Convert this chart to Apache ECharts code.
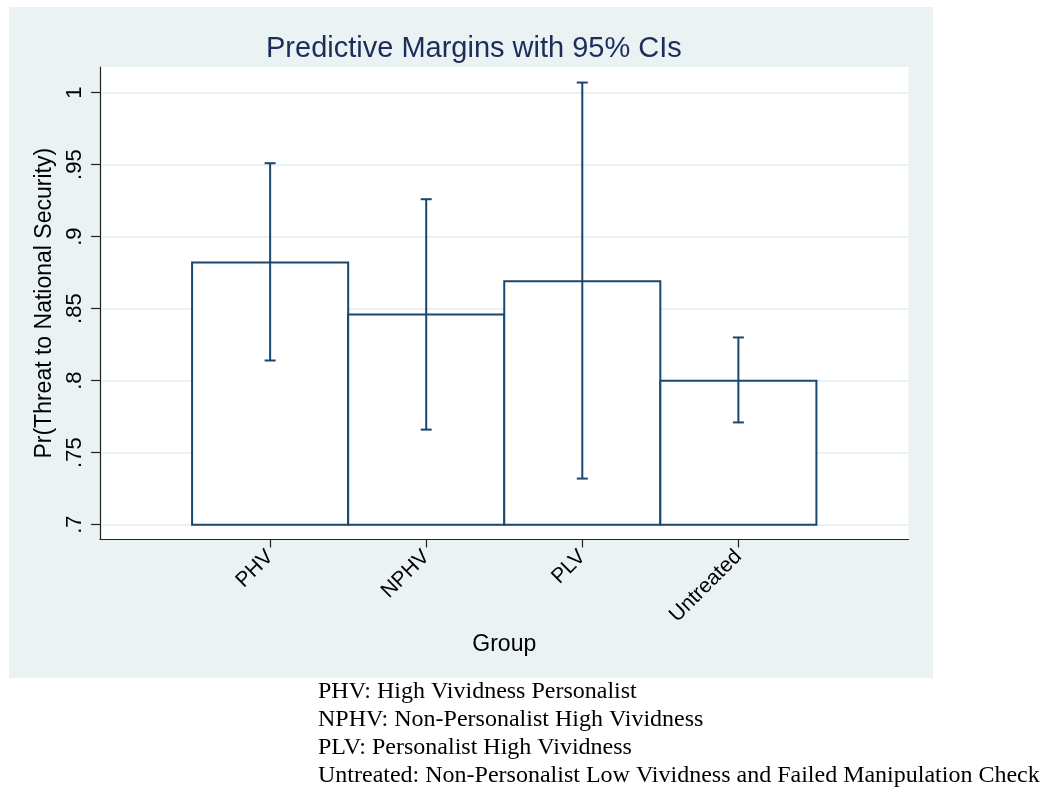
<!DOCTYPE html>
<html><head><meta charset="utf-8">
<script src="https://cdn.jsdelivr.net/npm/echarts@6/dist/echarts.min.js"></script>
<style>html,body{margin:0;padding:0;background:#fff}#c{width:1047px;height:791px}</style>
</head><body><div id="c"></div>
<script>
const categories = ['PHV', 'NPHV', 'PLV', 'Untreated'];
const margins = [0.882, 0.846, 0.869, 0.800];
const ciLower = [0.814, 0.766, 0.732, 0.771];
const ciUpper = [0.951, 0.926, 1.007, 0.830];
const yTicks = [0.7, 0.75, 0.8, 0.85, 0.9, 0.95, 1];
const barBase = 0.7;
const footnotes = [
  'PHV: High Vividness Personalist',
  'NPHV: Non-Personalist High Vividness',
  'PLV: Personalist High Vividness',
  'Untreated: Non-Personalist Low Vividness and Failed Manipulation Check'
];

const NAVY = '#1a476f';
const SANS = '"Liberation Sans", Arial, Helvetica, sans-serif';
const xPos = categories.map((c, i) => i + 1);
const data = categories.map((c, i) => [xPos[i], margins[i], ciLower[i], ciUpper[i]]);

function fmtY(v) {
  let s = (+v.toFixed(2)).toString();
  return s.replace(/^0\./, '.');
}

const chart = echarts.init(document.getElementById('c'), null, {renderer: 'canvas'});
chart.setOption({
  backgroundColor: '#ffffff',
  animation: false,
  title: {
    text: 'Predictive Margins with 95% CIs',
    left: 261, top: 29,
    textStyle: {fontFamily: SANS, fontSize: 29, fontWeight: 'normal', color: '#1c2d5a'}
  },
  graphic: [
    {type: 'rect', z: -100, shape: {x: 9, y: 7, width: 924, height: 671}, style: {fill: '#eaf2f3'}, silent: true},
    {type: 'text', left: 318, top: 678, z: 10,
     style: {text: footnotes.join('\n'), font: '24px "Liberation Serif", "Times New Roman", serif', fill: '#000', lineHeight: 28}}
  ],
  grid: {left: 100, right: 138.5, top: 67, bottom: 251.5, show: true, backgroundColor: '#ffffff', borderWidth: 0, containLabel: false},
  xAxis: {
    type: 'value', min: -0.09, max: 5.09,
    name: 'Group', nameLocation: 'middle', nameGap: 84,
    nameTextStyle: {fontFamily: SANS, fontSize: 23, color: '#000'},
    axisLine: {show: true, onZero: false, lineStyle: {color: '#222', width: 1.2}},
    axisTick: {show: true, length: 8, customValues: xPos, lineStyle: {color: '#222', width: 1.2}},
    axisLabel: {show: true, customValues: xPos, rotate: 45, margin: 14,
      fontFamily: SANS, fontSize: 21, color: '#000',
      formatter: v => categories[Math.round(v) - 1] || ''},
    splitLine: {show: false}
  },
  yAxis: {
    type: 'value', min: 0.6897, max: 1.0178,
    name: 'Pr(Threat to National Security)', nameLocation: 'middle', nameGap: 33, nameRotate: 90,
    nameTextStyle: {fontFamily: SANS, fontSize: 23, color: '#000'},
    axisLine: {show: true, onZero: false, lineStyle: {color: '#222', width: 1.2}},
    axisTick: {show: true, length: 9, customValues: yTicks, lineStyle: {color: '#222', width: 1.2}},
    axisLabel: {show: true, customValues: yTicks, rotate: 90, margin: 14,
      fontFamily: SANS, fontSize: 22, color: '#000', formatter: fmtY},
    splitLine: {show: true, lineStyle: {color: '#eaf2f3', width: 2}}
  },
  series: [
    {
      type: 'custom', name: 'margins', data: data, clip: false, z: 2,
      renderItem: function (params, api) {
        const x = api.value(0), m = api.value(1);
        const p0 = api.coord([x - 0.5, barBase]);
        const p1 = api.coord([x + 0.5, m]);
        return {type: 'rect',
          shape: {x: p0[0], y: p1[1], width: p1[0] - p0[0], height: p0[1] - p1[1]},
          style: {fill: '#ffffff', stroke: NAVY, lineWidth: 2}};
      }
    },
    {
      type: 'custom', name: 'ci', data: data, clip: false, z: 3,
      renderItem: function (params, api) {
        const x = api.value(0);
        const lo = api.coord([x, api.value(2)]);
        const hi = api.coord([x, api.value(3)]);
        const w = 5.5;
        const st = {stroke: NAVY, lineWidth: 2, fill: null};
        return {type: 'group', children: [
          {type: 'line', shape: {x1: lo[0], y1: lo[1], x2: hi[0], y2: hi[1]}, style: st},
          {type: 'line', shape: {x1: lo[0] - w, y1: lo[1], x2: lo[0] + w, y2: lo[1]}, style: st},
          {type: 'line', shape: {x1: hi[0] - w, y1: hi[1], x2: hi[0] + w, y2: hi[1]}, style: st}
        ]};
      }
    }
  ]
});
</script>
</body></html>
